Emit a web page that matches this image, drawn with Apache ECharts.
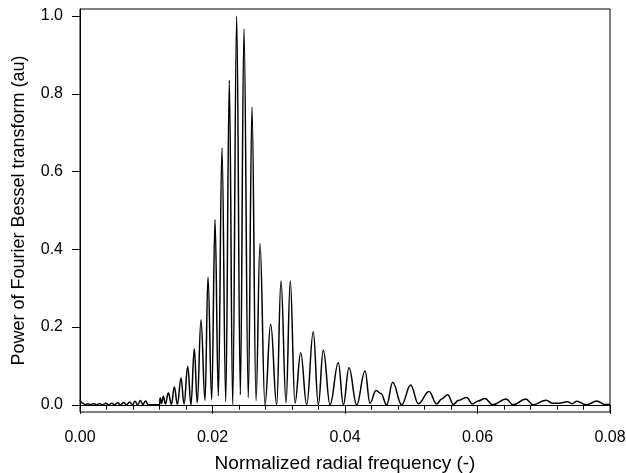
<!DOCTYPE html>
<html>
<head>
<meta charset="utf-8">
<script src="https://cdn.jsdelivr.net/npm/echarts@6/dist/echarts.min.js"></script>
<style>
  html, body { margin: 0; padding: 0; background: #fff; }
  #chart { width: 626px; height: 473px; }
</style>
</head>
<body>
<div id="chart"></div>
<script>
// radial frequency (peaks, troughs and shoulders)
const freq = [
  0.0000, 0.0004, 0.0008, 0.0012, 0.0016, 0.0021, 0.0025, 0.0030, 0.0034, 0.0039,
  0.0043, 0.0048, 0.0052, 0.0057, 0.0061, 0.0066, 0.0070, 0.0075, 0.0079, 0.0083,
  0.0087, 0.0091, 0.0095, 0.0099, 0.0103, 0.0120, 0.0121, 0.0123, 0.01258, 0.0129,
  0.01333, 0.0138, 0.01424, 0.0147, 0.01525, 0.0157, 0.01626, 0.01675, 0.01725, 0.0177,
  0.01826, 0.01887, 0.01932, 0.01988, 0.02038, 0.02088, 0.02143, 0.0220, 0.02254, 0.02305,
  0.02365, 0.0242, 0.02475, 0.0254, 0.02596, 0.02657, 0.02717, 0.02792, 0.02878, 0.02969,
  0.03034, 0.0311, 0.03174, 0.03245, 0.03331, 0.03422, 0.03521, 0.03597, 0.03672, 0.03774,
  0.03899, 0.03975, 0.0406, 0.04176, 0.04302, 0.04377, 0.04468, 0.04543, 0.04629, 0.0472,
  0.04855, 0.04991, 0.05107, 0.05268, 0.05384, 0.0546, 0.0555, 0.05635, 0.0571, 0.05837,
  0.05922, 0.0601, 0.06113, 0.0623, 0.0643, 0.0654, 0.06727, 0.06842, 0.07034, 0.0713,
  0.0723, 0.07356, 0.0743, 0.07497, 0.07648, 0.0780, 0.0792, 0.0800
];
// power (au)
const power = [
  0.012, 0.004, 0.000, 0.003, 0.000, 0.003, 0.000, 0.003, 0.000, 0.004,
  0.000, 0.004, 0.000, 0.005, 0.000, 0.006, 0.000, 0.007, 0.000, 0.009,
  0.000, 0.011, 0.001, 0.010, 0.000, 0.000, 0.018, 0.003, 0.022, 0.002,
  0.031, 0.001, 0.046, 0.001, 0.069, 0.002, 0.099, 0.000, 0.144, 0.005,
  0.219, 0.011, 0.329, 0.013, 0.476, 0.023, 0.661, 0.008, 0.835, 0.000,
  1.000, 0.026, 0.967, 0.018, 0.766, 0.011, 0.414, 0.000, 0.208, 0.000,
  0.319, 0.005, 0.319, 0.004, 0.134, 0.000, 0.188, 0.000, 0.141, 0.000,
  0.108, 0.000, 0.095, 0.000, 0.087, 0.004, 0.037, 0.029, 0.000, 0.058,
  0.000, 0.051, 0.003, 0.034, 0.002, 0.015, 0.026, 0.001, 0.011, 0.019,
  0.002, 0.010, 0.016, 0.000, 0.015, 0.000, 0.015, 0.000, 0.012, 0.004,
  0.004, 0.008, 0.003, 0.009, 0.000, 0.010, 0.001, 0.001
];
const yTicks = [0, 0.2, 0.4, 0.6, 0.8, 1.0];

const font = '"Liberation Sans", Arial, Helvetica, sans-serif';
const chart = echarts.init(document.getElementById('chart'), null, { renderer: 'canvas' });

chart.setOption({
  animation: false,
  backgroundColor: '#fff',
  grid: {
    left: 80, right: 16, top: 9, bottom: 61,
    outerBoundsMode: 'none',
    containLabel: false,
    show: true, borderColor: '#000', borderWidth: 1
  },
  xAxis: {
    type: 'value',
    min: 0, max: 0.08, interval: 0.02,
    name: 'Normalized radial frequency (-)',
    nameLocation: 'middle', nameGap: 42,
    nameTextStyle: { fontSize: 19, color: '#000', fontFamily: font },
    axisLine: { lineStyle: { color: '#000', width: 1 } },
    axisTick: { length: 9, lineStyle: { color: '#000' } },
    minorTick: { show: true, splitNumber: 5, length: 5, lineStyle: { color: '#000' } },
    splitLine: { show: false },
    axisLabel: {
      fontSize: 16, color: '#000', fontFamily: font, margin: 18,
      formatter: v => v.toFixed(2)
    }
  },
  yAxis: {
    type: 'value',
    min: -0.0185, max: 1.018,
    name: 'Power of Fourier Bessel transform (au)',
    nameLocation: 'middle', nameGap: 52,
    nameTextStyle: { fontSize: 18, color: '#000', fontFamily: font },
    axisLine: { show: true, lineStyle: { color: '#000', width: 1 } },
    axisTick: { show: true, length: 8, customValues: yTicks, lineStyle: { color: '#000' } },
    splitLine: { show: false },
    axisLabel: {
      fontSize: 16, color: '#000', fontFamily: font, margin: 17,
      customValues: yTicks,
      formatter: v => v.toFixed(1)
    }
  },
  series: [{
    type: 'line',
    data: freq.map((f, i) => [f, power[i]]),
    showSymbol: false,
    smooth: 0.4,
    smoothMonotone: 'x',
    lineStyle: { color: '#000', width: 1.5 }
  }]
});
</script>
</body>
</html>
